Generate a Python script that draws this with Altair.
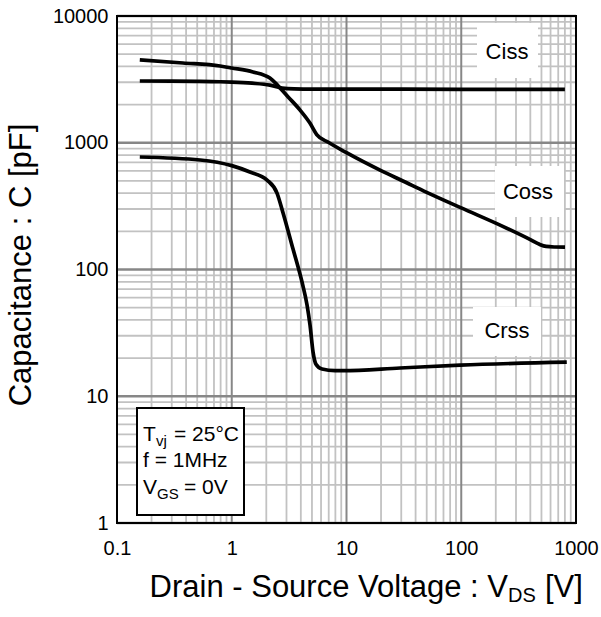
import altair as alt
import pandas as pd

# ---------------- data ----------------
ciss_v = [0.158, 0.3, 0.5, 0.79, 1.0, 1.5, 2.15, 2.75, 3.5, 5, 10, 100, 800]
ciss_c = [3070, 3060, 3050, 3030, 3010, 2950, 2850, 2700, 2660, 2650, 2650, 2640, 2640]

coss_v = [0.158, 0.376, 0.79, 1.0, 1.53, 2.15, 2.5, 3.1, 3.94, 4.8, 5.5, 7, 10, 20, 31, 50, 100, 230, 400, 480, 550, 650, 802]
coss_c = [4500, 4260, 4030, 3890, 3620, 3240, 2850, 2300, 1810, 1430, 1160, 1004, 834, 602, 499, 406, 306, 219, 172, 158, 152, 150.5, 150]

crss_v = [0.158, 0.53, 1.0, 1.44, 2.03, 2.48, 2.8, 3.42, 4.09, 4.53, 4.81, 5.11, 5.42, 6.12, 7.95, 9.3, 29.3, 98, 831]
crss_c = [772, 731, 660, 588, 508, 401, 279, 145, 80, 52.5, 36.5, 22.3, 17.9, 16.4, 15.9, 15.9, 16.7, 17.6, 18.6]

x_ticks = [0.1, 1, 10, 100, 1000]
y_ticks = [1, 10, 100, 1000, 10000]
minor_mult = [2, 3, 4, 5, 6, 7, 8, 9]

series_names = ["Ciss", "Coss", "Crss"]

# ---------------- layout ----------------
W, H = 459, 507
FONT = "Liberation Sans"

rows = []
for name, vs, cs in [("Ciss", ciss_v, ciss_c), ("Coss", coss_v, coss_c), ("Crss", crss_v, crss_c)]:
    for i, (v, c) in enumerate(zip(vs, cs)):
        rows.append({"series": name, "i": i, "v": v, "c": c})
curves = pd.DataFrame(rows)

x_minor = [d * m for d in x_ticks[:-1] for m in minor_mult]
y_minor = [d * m for d in y_ticks[:-1] for m in minor_mult]

xs = alt.Scale(type="log", domain=[0.1, 1000], nice=False)
ys = alt.Scale(type="log", domain=[1, 10000], nice=False)

ax_x = alt.Axis(values=x_ticks, format="~g", grid=False, ticks=False, domain=False,
                labelFontSize=20, labelFont=FONT, labelColor="black", labelPadding=15,
                labelFlush=False, labelOverlap=False, title=None)
ax_y = alt.Axis(values=y_ticks, format="~g", grid=False, ticks=False, domain=False,
                labelFontSize=20, labelFont=FONT, labelColor="black", labelPadding=9,
                labelFlush=False, labelOverlap=False, title=None)

minor_col = "#c2c2c2"
major_col = "#878787"

vminor = alt.Chart(pd.DataFrame({"x": x_minor})).mark_rule(color=minor_col, strokeWidth=1.8).encode(
    x=alt.X("x:Q", scale=xs, axis=ax_x), y=alt.value(0), y2=alt.value(H))
hminor = alt.Chart(pd.DataFrame({"y": y_minor})).mark_rule(color=minor_col, strokeWidth=1.8).encode(
    y=alt.Y("y:Q", scale=ys, axis=ax_y), x=alt.value(0), x2=alt.value(W))
vmajor = alt.Chart(pd.DataFrame({"x": x_ticks})).mark_rule(color=major_col, strokeWidth=2).encode(
    x=alt.X("x:Q", scale=xs, axis=ax_x), y=alt.value(0), y2=alt.value(H))
hmajor = alt.Chart(pd.DataFrame({"y": y_ticks})).mark_rule(color=major_col, strokeWidth=2.5).encode(
    y=alt.Y("y:Q", scale=ys, axis=ax_y), x=alt.value(0), x2=alt.value(W))

one = pd.DataFrame({"k": [0]})

layers = [vminor, hminor, vmajor, hmajor]

# white label boxes and labels
label_boxes = {
    "Ciss": (360, 421, 7, 62, 390, 36),
    "Coss": (378, 447, 150, 201, 411, 176),
    "Crss": (356, 424, 291, 340, 390, 315),
}
for name in series_names:
    x1, x2, y1, y2, tx, ty = label_boxes[name]
    layers.append(alt.Chart(one).mark_rect(color="white").encode(
        x=alt.value(x1), x2=alt.value(x2), y=alt.value(y1), y2=alt.value(y2)))

# curves
lines = alt.Chart(curves).mark_line(color="black", strokeWidth=3.7, interpolate="monotone").encode(
    x=alt.X("v:Q", scale=xs, axis=ax_x),
    y=alt.Y("c:Q", scale=ys, axis=ax_y),
    detail="series:N",
    order="i:Q",
)
layers.append(lines)

for name in series_names:
    x1, x2, y1, y2, tx, ty = label_boxes[name]
    layers.append(alt.Chart(pd.DataFrame({"t": [name]})).mark_text(
        font=FONT, fontSize=22, color="black", align="center", baseline="middle").encode(
        x=alt.value(tx), y=alt.value(ty), text="t:N"))

# conditions box
layers.append(alt.Chart(one).mark_rect(fill="white", stroke="black", strokeWidth=2).encode(
    x=alt.value(20), x2=alt.value(127), y=alt.value(392), y2=alt.value(499)))


def txt(s, x, y, size, align="left", baseline="alphabetic", angle=None):
    kw = dict(font=FONT, fontSize=size, color="black", align=align, baseline=baseline)
    if angle is not None:
        kw["angle"] = angle
    return alt.Chart(pd.DataFrame({"t": [s]})).mark_text(**kw).encode(
        x=alt.value(x), y=alt.value(y), text="t:N")


layers += [
    txt("T", 26, 425, 21),
    txt("vj", 39, 430, 15),
    txt("= 25°C", 57, 425, 21),
    txt("f = 1MHz", 26, 451, 21),
    txt("V", 26, 478, 21),
    txt("GS", 40, 483, 15),
    txt("= 0V", 67, 478, 21),
]

# axis titles
TF = 31
layers += [
    txt("Drain - Source Voltage : V", 391, 581, TF, align="right"),
    txt("DS", 391, 586, 20),
    txt("[V]", 428, 581, TF),
    txt("Capacitance : C [pF]", -95, 249, TF, align="center", baseline="middle", angle=270),
]

# frame on top
layers.append(alt.Chart(one).mark_rect(fillOpacity=0, stroke="black", strokeWidth=2).encode(
    x=alt.value(0), x2=alt.value(W), y=alt.value(0), y2=alt.value(H)))

chart = alt.layer(*layers).properties(
    width=W, height=H,
    autosize=alt.AutoSizeParams(type="none"),
    padding={"left": 117, "top": 16, "right": 25, "bottom": 94},
    background="white",
).configure_view(stroke=None)

chart.save("out.html", embed_options={"renderer": "svg", "actions": False})
